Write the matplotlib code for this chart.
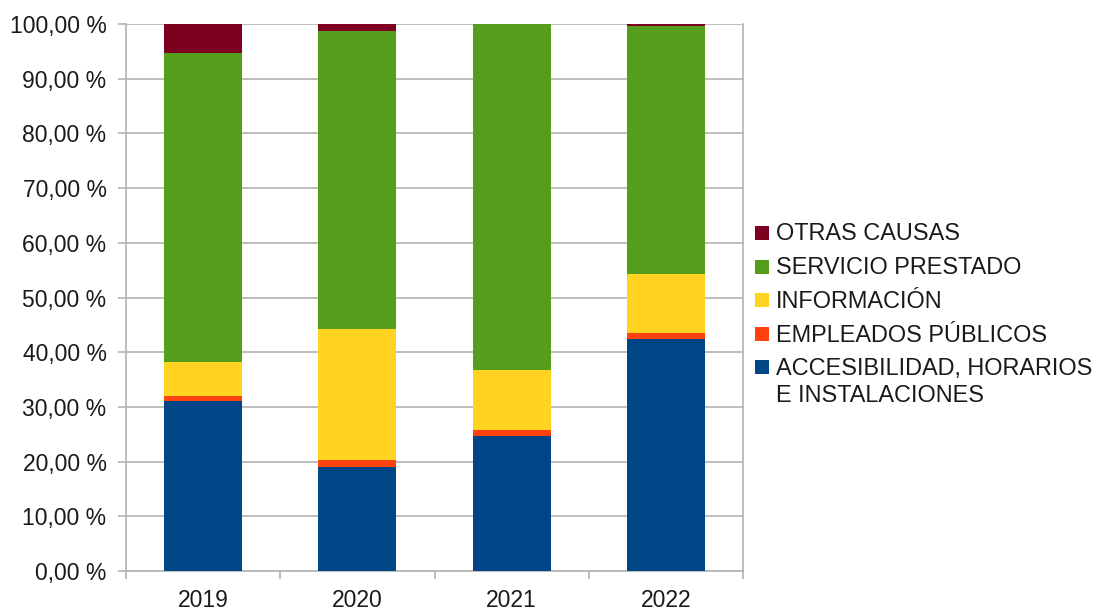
import matplotlib
matplotlib.use("Agg")
import matplotlib.pyplot as plt
from matplotlib.patches import Rectangle
from matplotlib.ticker import FuncFormatter, FixedLocator
import numpy as np

plt.rcParams['font.family'] = ['Liberation Sans', 'DejaVu Sans']

years = ["2019", "2020", "2021", "2022"]

# Percentage share per category and year (bottom to top of the stack)
accesibilidad = [31.1, 19.0, 24.7, 42.4]
empleados = [0.9, 1.3, 1.1, 1.1]
informacion = [6.2, 23.9, 10.95, 10.8]
servicio = [56.55, 54.5, 63.25, 45.4]
otras = [5.25, 1.3, 0.0, 0.3]

series = [
    ("ACCESIBILIDAD, HORARIOS\nE INSTALACIONES", accesibilidad, "#004586"),
    ("EMPLEADOS PÚBLICOS", empleados, "#ff420e"),
    ("INFORMACIÓN", informacion, "#ffd320"),
    ("SERVICIO PRESTADO", servicio, "#579d1c"),
    ("OTRAS CAUSAS", otras, "#7e0021"),
]

W, H = 1094, 610
fig = plt.figure(figsize=(W / 100, H / 100), dpi=100)
ax = fig.add_axes([126 / W, 1 - 571 / H, (743 - 126) / W, (571 - 24) / H])

x = np.arange(len(years))
bottom = np.zeros(len(years))
for name, vals, color in series:
    vals = np.array(vals)
    ax.bar(x, vals, bottom=bottom, width=0.505, color=color, zorder=3)
    bottom += vals

grid_c = "#b3b3b3"
ax.set_xlim(-0.5, len(years) - 0.5)
ax.set_ylim(0, 100)
ax.set_yticks(np.arange(0, 101, 10))
ax.yaxis.set_major_formatter(FuncFormatter(lambda v, p: f"{v:.2f}".replace(".", ",") + " %"))
ax.grid(axis="y", color=grid_c, linewidth=1.2, zorder=0)

ax.set_xticks(x)
ax.set_xticklabels(years)
ax.xaxis.set_minor_locator(FixedLocator(np.arange(-0.5, len(years), 1.0)))
ax.tick_params(axis="x", which="major", length=0, pad=13, labelsize=16.5, colors="#1a1a1a")
ax.tick_params(axis="x", which="minor", length=6, width=1.2, color=grid_c)
ax.tick_params(axis="y", length=6, width=1.2, color=grid_c, pad=8, labelsize=16.5, labelcolor="#1a1a1a")

for s in ["left", "bottom", "right"]:
    ax.spines[s].set_color(grid_c)
    ax.spines[s].set_linewidth(1.2)
ax.spines["top"].set_visible(False)

# Legend drawn in figure pixel coordinates, top entry first
rows = [
    ("OTRAS CAUSAS", "#7e0021", 233),
    ("SERVICIO PRESTADO", "#579d1c", 267),
    ("INFORMACIÓN", "#ffd320", 300),
    ("EMPLEADOS PÚBLICOS", "#ff420e", 334),
    ("ACCESIBILIDAD, HORARIOS", "#004586", 367),
]
for label, color, yc in rows:
    fig.patches.append(Rectangle((755 / W, 1 - (yc + 7) / H), 14 / W, 14 / H,
                                 transform=fig.transFigure, facecolor=color, edgecolor="none"))
    fig.text(776 / W, 1 - (yc + 1) / H, label, fontsize=16.9, va="center", ha="left", color="#1a1a1a")
fig.text(776 / W, 1 - 395 / H, "E INSTALACIONES", fontsize=16.9, va="center", ha="left", color="#1a1a1a")

fig.savefig("out.png", dpi=100, facecolor="white")
